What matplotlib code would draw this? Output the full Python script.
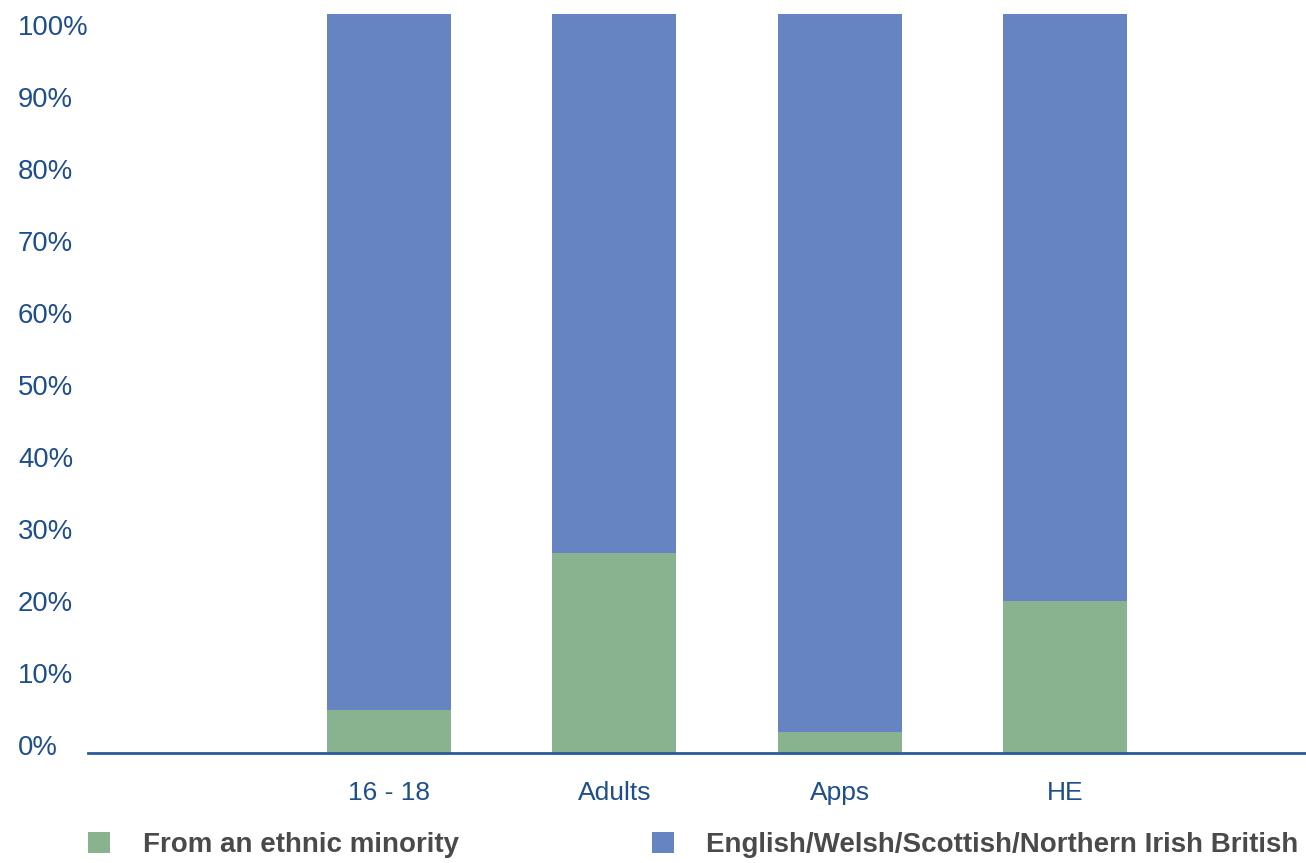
import matplotlib
matplotlib.use("Agg")
import matplotlib.pyplot as plt
import numpy as np

categories = ["16 - 18", "Adults", "Apps", "HE"]
minority = [5.8, 27.1, 2.9, 20.6]
british = [94.2, 72.9, 97.1, 79.4]
series_names = ["From an ethnic minority", "English/Welsh/Scottish/Northern Irish British"]
ytick_vals = [0, 10, 20, 30, 40, 50, 60, 70, 80, 90, 100]
ytick_labels = [f"{v}%" for v in ytick_vals]

GREEN = "#88b38e"
BLUE = "#6683c2"
TICK_COL = "#1f4e8c"
LEG_COL = "#4a4a4a"

plt.rcParams['font.family'] = ['Liberation Sans', 'DejaVu Sans']

W, H = 1306, 863
fig = plt.figure(figsize=(W / 100, H / 100), dpi=100)
ax = fig.add_axes([88 / W, 1 - 753 / H, (1305 - 88) / W, (753 - 14) / H])

x = np.arange(len(categories))
b1 = ax.bar(x, minority, width=0.55, color=GREEN, label=series_names[0], zorder=2)
b2 = ax.bar(x, british, width=0.55, bottom=minority, color=BLUE, label=series_names[1], zorder=2)

ax.set_xlim(-1.336, 4.066)
ax.set_ylim(0, 100)
for s in ["top", "right", "left"]:
    ax.spines[s].set_visible(False)
ax.spines["bottom"].set_color("#2a5a9a")
ax.spines["bottom"].set_linewidth(2)
ax.spines["bottom"].set_zorder(3)

ax.set_xticks(x)
ax.set_xticklabels(categories, fontsize=19, color=TICK_COL)
ax.tick_params(axis="x", length=0, pad=20)

ax.set_yticks([])
# label positions in the reference are slightly compressed relative to the bars
f = lambda y: (y - 1.0825) / 0.9743
finv = lambda v: 1.0825 + 0.9743 * v
sec = ax.secondary_yaxis("left", functions=(f, finv))
sec.spines["left"].set_visible(False)
sec.set_yticks(ytick_vals)
sec.set_yticklabels(ytick_labels, fontsize=19.8, color=TICK_COL, ha="left")
sec.tick_params(axis="y", length=0, pad=50.4)

leg = fig.legend(handles=[b1, b2], labels=series_names, ncol=2,
                 loc="center left", bbox_to_anchor=(88 / W, 1 - 845 / H),
                 frameon=False, borderpad=0, borderaxespad=0,
                 handlelength=0.8, handleheight=0.8, handletextpad=1.17,
                 columnspacing=6.95,
                 prop={"size": 20, "weight": "bold"})
for t in leg.get_texts():
    t.set_color(LEG_COL)

fig.savefig("out.png", dpi=100)
